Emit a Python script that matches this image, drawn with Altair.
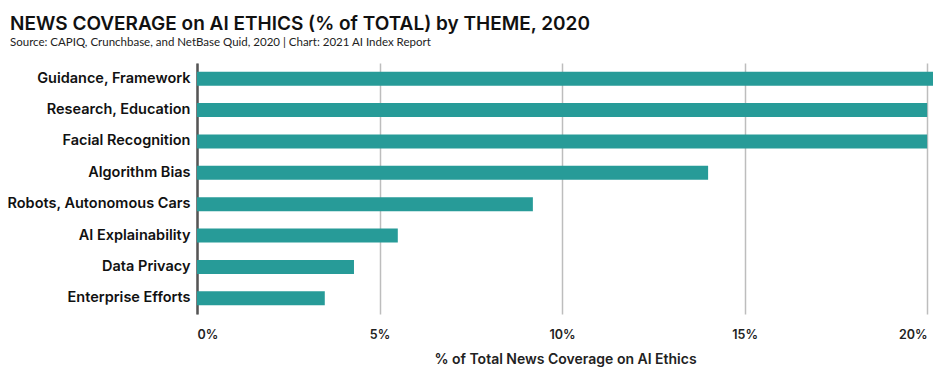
import altair as alt
import pandas as pd

themes = ["Guidance, Framework", "Research, Education", "Facial Recognition",
          "Algorithm Bias", "Robots, Autonomous Cars", "AI Explainability",
          "Data Privacy", "Enterprise Efforts"]
shares = [20.6, 20.0, 20.0, 14.0, 9.2, 5.5, 4.3, 3.5]
ticks = [0, 5, 10, 15, 20]

df = pd.DataFrame({"theme": themes, "share": shares})

FONT = "Inter"

chart = alt.Chart(df).mark_bar(color="#279B98", clip=True).encode(
    x=alt.X("share:Q",
            scale=alt.Scale(domain=[0, 20.16], nice=False, zero=True),
            axis=alt.Axis(values=ticks, labelExpr="datum.value + '%'",
                          title="% of Total News Coverage on AI Ethics",
                          domain=False, ticks=False, grid=True,
                          gridColor="#bdbdbd", gridWidth=1.5,
                          labelPadding=14, labelFlush=True,
                          labelAlign={"expr": "datum.value == 0 ? 'left' : datum.value == 20 ? 'right' : 'center'"},
                          labelFont=FONT, labelFontSize=12.5, labelFontWeight=600,
                          labelColor="#222",
                          titleFont=FONT, titleFontSize=14, titleFontWeight=600,
                          titleColor="#222", titlePadding=12)),
    y=alt.Y("theme:N", sort=themes,
            scale=alt.Scale(paddingInner=0.55, paddingOuter=0.275),
            axis=alt.Axis(title=None, ticks=False, domain=True,
                          domainColor="#555", domainWidth=2.5,
                          labelPadding=7, labelLimit=260, labelFont=FONT,
                          labelFontSize=14.5,
                          labelFontWeight=600, labelColor="#111")),
).properties(
    width=736, height=251,
    autosize=alt.AutoSizeParams(type="none"),
    padding={"left": 189, "top": 55, "right": 0, "bottom": 55},
    title=alt.TitleParams(
        text="NEWS COVERAGE on AI ETHICS (% of TOTAL) by THEME, 2020",
        subtitle="Source: CAPIQ, Crunchbase, and NetBase Quid, 2020 | Chart: 2021 AI Index Report",
        anchor="start", frame="group", dx=-187, offset=15,
        font=FONT, fontSize=19, fontWeight=600, color="#111",
        subtitleFont="Lato", subtitleFontSize=11.5, subtitleColor="#222",
        subtitlePadding=3),
).configure_view(stroke=None)

chart.save("out.html", embed_options={"renderer": "svg", "actions": False})
